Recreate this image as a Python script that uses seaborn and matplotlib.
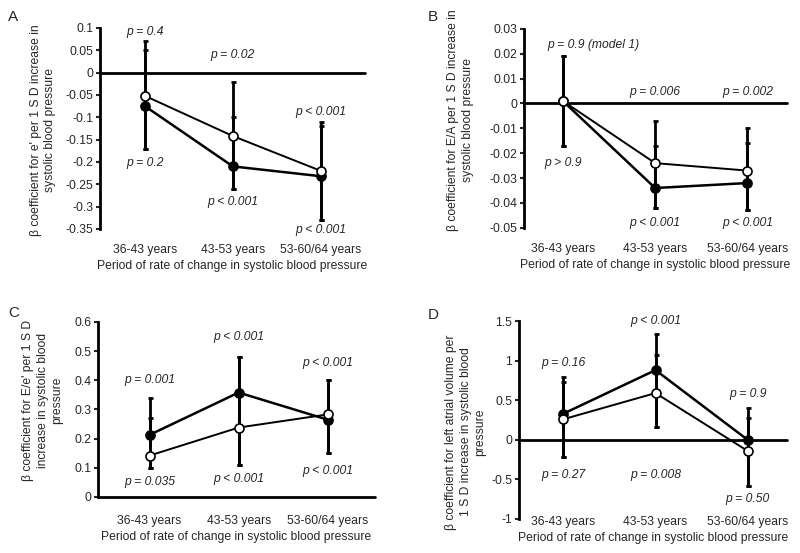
import numpy as np
import pandas as pd
import seaborn as sns
import matplotlib.pyplot as plt

### data
periods = ["36-43 years", "43-53 years", "53-60/64 years"]

# panel A: e'
a_filled = [-0.075, -0.21, -0.232]
a_filled_lo = [-0.17, -0.26, -0.33]
a_filled_hi = [0.05, -0.10, -0.12]
a_open = [-0.052, -0.142, -0.22]
a_open_lo = [-0.17, -0.26, -0.33]
a_open_hi = [0.07, -0.02, -0.11]

# panel B: E/A
b_filled = [0.001, -0.034, -0.032]
b_filled_lo = [-0.017, -0.042, -0.043]
b_filled_hi = [0.019, -0.017, -0.016]
b_open = [0.001, -0.024, -0.027]
b_open_lo = [-0.017, -0.042, -0.043]
b_open_hi = [0.019, -0.007, -0.010]

# panel C: E/e'
c_filled = [0.213, 0.358, 0.265]
c_filled_lo = [0.10, 0.11, 0.15]
c_filled_hi = [0.27, 0.48, 0.40]
c_open = [0.142, 0.238, 0.283]
c_open_lo = [0.10, 0.11, 0.15]
c_open_hi = [0.34, 0.48, 0.40]

# panel D: left atrial volume
d_filled = [0.33, 0.88, 0.0]
d_filled_lo = [-0.22, 0.16, -0.58]
d_filled_hi = [0.73, 1.07, 0.27]
d_open = [0.26, 0.59, -0.14]
d_open_lo = [-0.22, 0.16, -0.58]
d_open_hi = [0.79, 1.33, 0.40]

# p value labels: (text, category, y, ha)
a_pvals = [("p = 0.4", 0, 0.091, "center"), ("p = 0.02", 1, 0.040, "center"),
           ("p < 0.001", 2, -0.088, "center"), ("p = 0.2", 0, -0.202, "center"),
           ("p < 0.001", 1, -0.29, "center"), ("p < 0.001", 2, -0.352, "center")]
b_pvals = [("p = 0.9 (model 1)", -0.17, 0.0236, "left"), ("p = 0.006", 1, 0.0047, "center"),
           ("p = 0.002", 2, 0.0047, "center"), ("p > 0.9", 0, -0.0239, "center"),
           ("p < 0.001", 1, -0.048, "center"), ("p < 0.001", 2, -0.048, "center")]
c_pvals = [("p = 0.001", 0, 0.401, "center"), ("p < 0.001", 1, 0.549, "center"),
           ("p < 0.001", 2, 0.459, "center"), ("p = 0.035", 0, 0.051, "center"),
           ("p < 0.001", 1, 0.062, "center"), ("p < 0.001", 2, 0.089, "center")]
d_pvals = [("p = 0.16", 0, 0.97, "center"), ("p < 0.001", 1, 1.50, "center"),
           ("p = 0.9", 2, 0.58, "center"), ("p = 0.27", 0, -0.45, "center"),
           ("p = 0.008", 1, -0.45, "center"), ("p = 0.50", 2, -0.75, "center")]

xlab = "Period of rate of change in systolic blood pressure"

panels = [
    dict(letter="A", rect=[0.125, 0.586, 0.331, 0.3635], xlim=(-0.51, 2.5), ylim=(-0.35, 0.1),
         yticks=np.arange(-0.35, 0.101, 0.05), ylab="β coefficient for e' per 1 S D increase in\nsystolic blood pressure",
         labx=-0.165, laby=0.49, tickpad=11,
         f=(a_filled, a_filled_lo, a_filled_hi), o=(a_open, a_open_lo, a_open_hi), p=a_pvals,
         letterxy=(0.01, 0.969)),
    dict(letter="B", rect=[0.655, 0.588, 0.329, 0.360], xlim=(-0.42, 2.43), ylim=(-0.05, 0.03),
         yticks=np.arange(-0.05, 0.031, 0.01), ylab="β coefficient for E/A per 1 S D increase in\nsystolic blood pressure",
         labx=-0.19, laby=0.54, tickpad=11,
         f=(b_filled, b_filled_lo, b_filled_hi), o=(b_open, b_open_lo, b_open_hi), p=b_pvals,
         letterxy=(0.535, 0.969)),
    dict(letter="C", rect=[0.1225, 0.1013, 0.346, 0.3165], xlim=(-0.58, 2.53), ylim=(0, 0.6),
         yticks=np.arange(0, 0.61, 0.1), ylab="β coefficient for E/e' per 1 S D\nincrease in systolic blood\npressure",
         labx=-0.125, laby=0.55, tickpad=13,
         f=(c_filled, c_filled_lo, c_filled_hi), o=(c_open, c_open_lo, c_open_hi), p=c_pvals,
         letterxy=(0.01, 0.434)),
    dict(letter="D", rect=[0.649, 0.0615, 0.335, 0.358], xlim=(-0.48, 2.43), ylim=(-1, 1.5),
         yticks=np.arange(-1, 1.51, 0.5), ylab="β coefficient for left atrial volume per\n1 S D increase in systolic blood\npressure",
         labx=-0.123, laby=0.44, tickpad=-2,
         f=(d_filled, d_filled_lo, d_filled_hi), o=(d_open, d_open_lo, d_open_hi), p=d_pvals,
         letterxy=(0.535, 0.430)),
]

sns.set_style("white")
plt.rcParams['font.family'] = ['Liberation Sans', 'DejaVu Sans']
fs = 8.7

fig = plt.figure(figsize=(8, 5.53), dpi=100)
x = np.arange(3)

for pan in panels:
    ax = fig.add_axes(pan["rect"])
    df = pd.DataFrame({
        "period": np.tile(x, 2),
        "beta": list(pan["f"][0]) + list(pan["o"][0]),
        "model": ["filled"] * 3 + ["open"] * 3,
    })
    # error bars first so the markers sit on top
    for mean, lo, hi in (pan["f"], pan["o"]):
        mean = np.array(mean)
        err = [mean - np.array(lo), np.array(hi) - mean]
        ax.errorbar(x, mean, yerr=err, fmt="none", ecolor="black", elinewidth=2,
                    capsize=1.8, capthick=2, zorder=2)
    ax.axhline(0, color="black", lw=2, zorder=1, clip_on=False)
    sns.lineplot(data=df[df.model == "filled"], x="period", y="beta", color="black", lw=1.8,
                 marker="o", markersize=6.5, markerfacecolor="black", markeredgecolor="black",
                 markeredgewidth=1.2, ax=ax, zorder=3, legend=False)
    sns.lineplot(data=df[df.model == "open"], x="period", y="beta", color="black", lw=1.4,
                 marker="o", markersize=6.5, markerfacecolor="white", markeredgecolor="black",
                 markeredgewidth=1.2, ax=ax, zorder=4, legend=False)

    for txt, px, py, ha in pan["p"]:
        ax.text(px, py, txt, ha=ha, va="center", fontsize=fs, style="italic")

    ax.set_xlim(pan["xlim"])
    ax.set_ylim(pan["ylim"])
    ax.set_yticks(pan["yticks"])
    ax.set_yticklabels(["{:g}".format(round(v, 3) + 0.0) if abs(v) > 1e-9 else "0" for v in pan["yticks"]])
    ax.set_xticks(x)
    ax.set_xticklabels(periods)
    ax.tick_params(axis="x", length=0, pad=pan["tickpad"], labelsize=fs)
    ax.tick_params(axis="y", length=3, width=1.5, direction="out", pad=2, labelsize=fs, left=True)
    for s in ["top", "right", "bottom"]:
        ax.spines[s].set_visible(False)
    ax.spines["left"].set_linewidth(2)
    ax.spines["left"].set_color("black")
    ax.set_xlabel(xlab, fontsize=fs, labelpad=3)
    ax.set_ylabel(pan["ylab"], fontsize=fs, linespacing=1.3)
    ax.yaxis.set_label_coords(pan["labx"], pan["laby"])
    fig.text(pan["letterxy"][0], pan["letterxy"][1], pan["letter"], fontsize=11, ha="left", va="center")

plt.savefig("out.png", dpi=100)
